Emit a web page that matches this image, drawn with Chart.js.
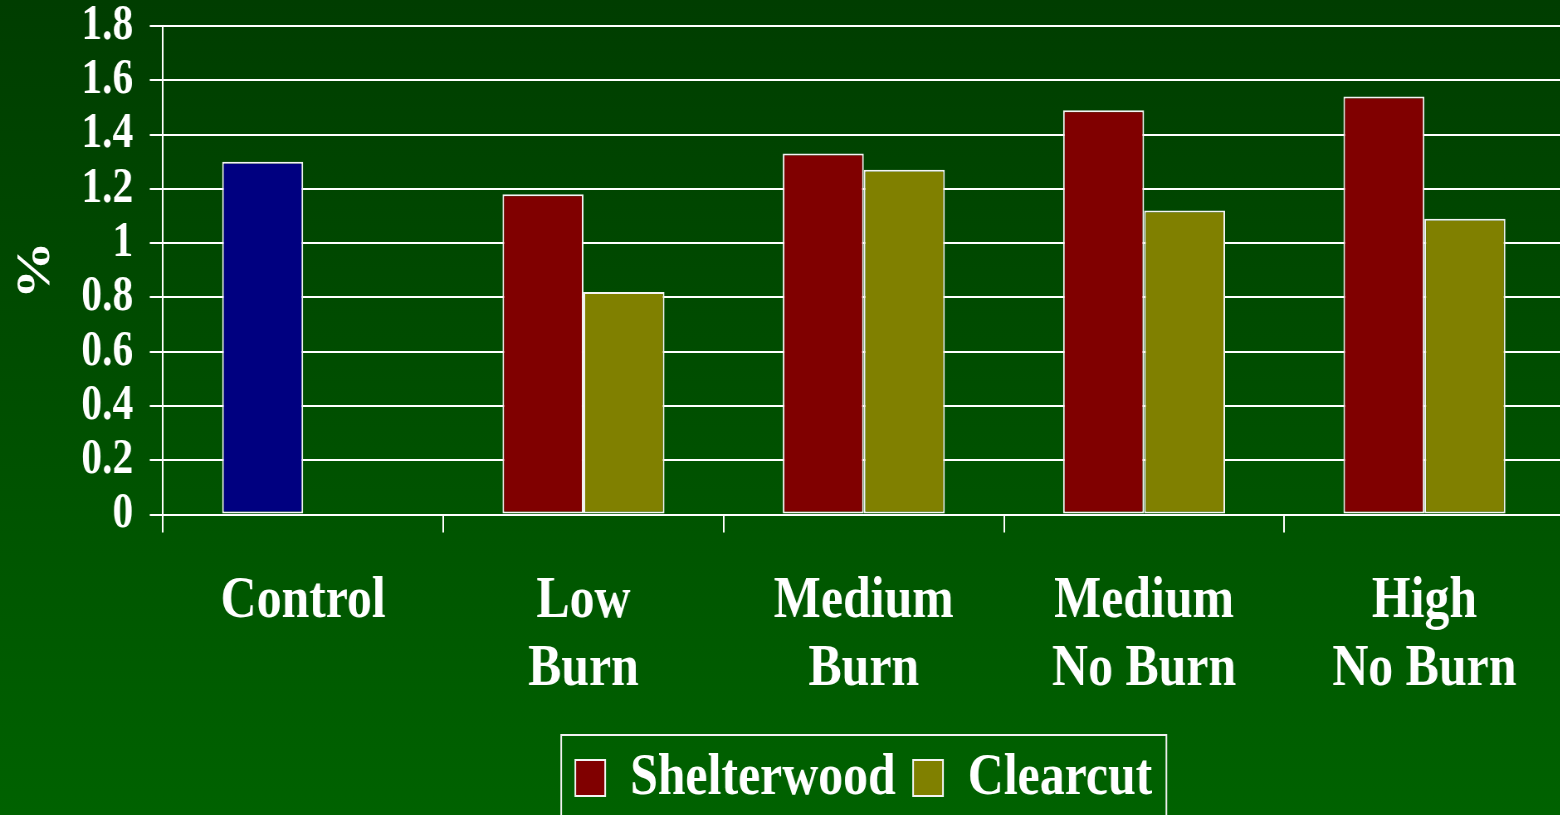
<!DOCTYPE html>
<html>
<head>
<meta charset="utf-8">
<script src="https://cdn.jsdelivr.net/npm/chart.js@4.4.1/dist/chart.umd.min.js"></script>
<style>
  html, body {
    margin: 0;
    padding: 0;
    width: 1560px;
    height: 815px;
    overflow: hidden;
    background: linear-gradient(to bottom, #003d00 0%, #004f00 50%, #006200 100%);
  }
  /* the chart is laid out wide and condensed horizontally, like the narrow serif lettering */
  #wrap {
    position: absolute;
    left: 0;
    top: 0;
    width: 1890px;
    height: 820px;
    transform: scaleX(0.83);
    transform-origin: 0 0;
  }
</style>
</head>
<body>
<div id="wrap"><canvas id="chart"></canvas></div>
<script>
// Treatments along the x axis
const categories = ['Control', ['Low', 'Burn'], ['Medium', 'Burn'], ['Medium', 'No Burn'], ['High', 'No Burn']];

// Percent values per treatment
const controlValues = [1.3, null, null, null, null];
const shelterwoodValues = [null, 1.18, 1.33, 1.49, 1.54];
const clearcutValues = [null, 0.82, 1.27, 1.12, 1.09];

// Value axis labels, bottom to top
const yTickLabels = ['0', '0.2', '0.4', '0.6', '0.8', '1', '1.2', '1.4', '1.6', '1.8'];

const serif = "'Liberation Serif', 'Times New Roman', serif";
const white = '#ffffff';

// Frame drawn around the legend entries
const legendFrame = {
  id: 'legendFrame',
  afterDraw(chart) {
    const boxes = chart.legend && chart.legend.legendHitBoxes;
    if (!boxes || !boxes.length) return;
    const left = Math.min(...boxes.map(b => b.left)) - 17;
    const right = Math.max(...boxes.map(b => b.left + b.width)) + 17;
    const top = boxes[0].top - 13;
    const ctx = chart.ctx;
    ctx.save();
    ctx.strokeStyle = '#f2f2f2';
    ctx.lineWidth = 2;
    ctx.strokeRect(left, top, right - left, chart.height + 20 - top);
    ctx.restore();
  }
};

new Chart(document.getElementById('chart'), {
  type: 'bar',
  data: {
    labels: categories,
    datasets: [
      { label: 'Control', data: controlValues, backgroundColor: '#000080', stack: 'a' },
      { label: 'Shelterwood', data: shelterwoodValues, backgroundColor: '#800000', stack: 'a' },
      { label: 'Clearcut', data: clearcutValues, backgroundColor: '#808000', stack: 'b' }
    ]
  },
  options: {
    responsive: true,
    maintainAspectRatio: false,
    animation: false,
    devicePixelRatio: 1,
    layout: { padding: { top: 26, left: 0, right: 5, bottom: 2 } },
    datasets: {
      bar: {
        borderColor: '#f4f4f4',
        borderWidth: 2,
        borderSkipped: false,
        barPercentage: 1,
        categoryPercentage: 0.578
      }
    },
    scales: {
      x: {
        stacked: true,
        afterFit: s => { s.height = 212.5; },
        grid: {
          offset: true,
          drawOnChartArea: false,
          drawTicks: true,
          tickLength: 18,
          color: white,
          lineWidth: 2
        },
        border: { display: true, color: white, width: 2 },
        ticks: {
          color: white,
          padding: 35,
          maxRotation: 0,
          autoSkip: false,
          font: { family: serif, size: 60, weight: 'bold', lineHeight: 1.13 }
        }
      },
      y: {
        stacked: true,
        min: 0,
        max: 1.8,
        afterFit: s => {
          s.width = 196.4;
          s.paddingTop = 0;
          s.paddingBottom = 0;
        },
        grid: {
          color: white,
          lineWidth: 2,
          drawTicks: true,
          tickLength: 16
        },
        border: { display: true, color: white, width: 2 },
        ticks: {
          stepSize: 0.2,
          color: white,
          padding: 20,
          font: { family: serif, size: 50, weight: 'bold', lineHeight: 1 },
          callback: (value, index) => yTickLabels[index]
        },
        title: {
          display: true,
          text: '%',
          color: white,
          padding: { top: 15, bottom: 0 },
          font: { family: serif, size: 58, weight: 'bold', lineHeight: 1 }
        }
      }
    },
    plugins: {
      tooltip: { enabled: false },
      legend: {
        display: true,
        position: 'bottom',
        fullSize: false,
        labels: {
          color: white,
          boxWidth: 36,
          boxHeight: 36,
          padding: 21,
          font: { family: serif, size: 60, weight: 'bold' },
          filter: item => item.text !== 'Control'
        }
      }
    }
  },
  plugins: [legendFrame]
});
</script>
</body>
</html>
